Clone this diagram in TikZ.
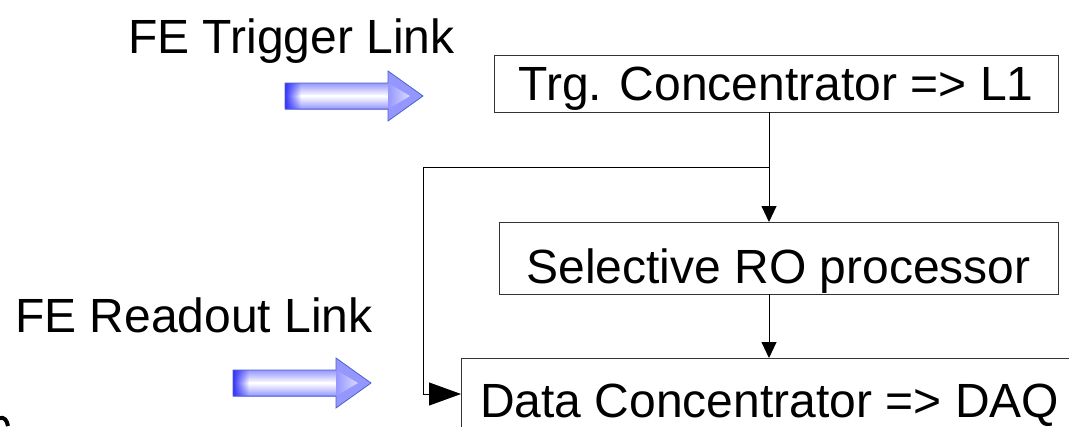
\documentclass[tikz,border=0pt]{standalone}
\usepackage{fontspec}
\setmainfont{Liberation Sans}
\usetikzlibrary{arrows.meta,fadings}
\definecolor{arrowedge}{RGB}{70,100,200}
\definecolor{arrowdark}{RGB}{50,50,250}
\definecolor{arrowbody}{RGB}{150,150,255}
\tikzset{
  blk/.style={draw=black!80, line width=0.9pt, fill=white},
  lbl/.style={font=\fontsize{48}{52}\selectfont, inner sep=0pt, anchor=base west},
  conn/.style={draw=black, line width=0.9pt, -{Triangle[length=16pt,width=15pt]}},
  bigconn/.style={draw=black, line width=0.9pt, -{Triangle[length=32pt,width=23pt]}},
}
% fat block arrow with its shaft's left end at (#1,#2)
\newcommand{\fatarrow}[2]{%
  \begin{scope}[shift={(#1,#2-25)}]
    \fill[arrowbody]
      (0,12) -- (103,12) -- (103,0) -- (138,25) -- (103,50) -- (103,38) -- (0,38) -- cycle;
    \shade[top color=arrowbody, bottom color=arrowbody, middle color=white]
      (0,12) rectangle (103,38);
    \shade[left color=arrowbody, right color=arrowbody!35]
      (103,12) -- (103,38) -- (125,25) -- cycle;
    \fill[white] (14,24) rectangle (100,26);
    \fill[arrowdark, path fading=east] (0,12) rectangle (16,38);
    \draw[arrowedge, line width=0.8pt]
      (0,12) -- (103,12) -- (103,0) -- (138,25) -- (103,50) -- (103,38) -- (0,38) -- cycle;
  \end{scope}}
\begin{document}
\begin{tikzpicture}[x=1pt,y=-1pt]
  \useasboundingbox (0,0) rectangle (1069,426);

  % labels of the front-end links
  \node[lbl] (trglink) at (128,53) {FE Trigger Link};
  \node[lbl] (rolink) at (15,332) {FE Readout Link};

  % stroke of a letter running off the lower left corner
  \draw[line width=4pt] (0,418) .. controls (4,417) and (7,420) .. (8,426);

  % block arrows
  \fatarrow{285}{96}
  \fatarrow{233}{383}

  % processing blocks
  \path[blk] (494,55) rectangle (1058,112);
  \node[lbl, anchor=base] (trg) at (776,100) {Trg. Concentrator => L1};
  \path[blk] (499,222) rectangle (1058,294);
  \node[lbl, anchor=base] (sel) at (778.5,283) {Selective RO processor};
  \draw[black!80, line width=0.9pt] (1075,358) -- (461,358) -- (461,440);
  \node[lbl] (daq) at (480,417) {Data Concentrator => DAQ};

  % block edges used by the connectors
  \coordinate (trgS) at (769,112);
  \coordinate (selN) at (769,222);
  \coordinate (selS) at (769,294);
  \coordinate (daqN) at (769,358);
  \coordinate (daqW) at (461,394);
  \coordinate (split) at (769,167);

  \draw[conn] (trgS) -- (selN);
  \draw[conn] (selS) -- (daqN);
  \draw[bigconn] (split) -- (423,167) -- (423,394) -- (daqW);
\end{tikzpicture}
\end{document}
